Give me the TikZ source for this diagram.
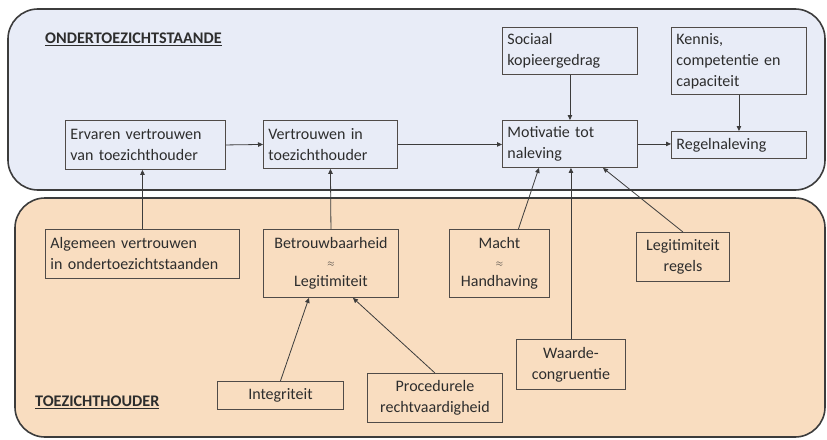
\documentclass[tikz,border=0pt]{standalone}
\usepackage{fontspec}
\setmainfont{Carlito}
\usetikzlibrary{arrows.meta}
\definecolor{topfill}{RGB}{232,236,247}
\definecolor{botfill}{RGB}{249,221,192}
\definecolor{edge}{RGB}{60,60,60}
\definecolor{boxedge}{RGB}{80,75,72}
\definecolor{txt}{RGB}{45,45,45}
\begin{document}
\begin{tikzpicture}[x=1pt,y=-1pt,
  panel/.style={draw=edge, line width=1.6pt, rounded corners=30pt},
  box/.style={draw=boxedge, line width=0.9pt, inner sep=5pt, anchor=north west,
    font=\fontsize{16}{21}\selectfont, text=txt},
  lbl/.style={font=\fontsize{16.2}{18}\selectfont\bfseries, text=txt, anchor=north west, inner sep=0pt},
  arr/.style={draw=edge, line width=0.8pt, -{Triangle[length=5pt,width=4.5pt]}}]
\useasboundingbox (0,0) rectangle (827,439);
% panels
\draw[panel, fill=topfill] (8,9) rectangle (825,190);
\draw[panel, fill=botfill] (15,198) rectangle (825,437);
% labels
\node[lbl] (lt) at (45,33) {\underline{ONDERTOEZICHTSTAANDE}};
\node[lbl] (lb) at (35,396) {\underline{TOEZICHTHOUDER}};
% top boxes
\node[box, minimum width=160, minimum height=49, text width=150, align=left] (erv) at (65,120) {Ervaren vertrouwen\\van toezichthouder};
\node[box, minimum width=134, minimum height=48, text width=124, align=left] (ver) at (263,120) {Vertrouwen in\\toezichthouder};
\node[box, minimum width=135, minimum height=47, text width=125, align=left] (soc) at (502,27) {Sociaal\\kopieergedrag};
\node[box, minimum width=135, minimum height=67, text width=125, align=left] (ken) at (671,27) {Kennis,\\competentie en\\capaciteit};
\node[box, minimum width=135, minimum height=47, text width=125, align=left] (mot) at (502,120) {Motivatie tot\\naleving};
\node[box, minimum width=135, minimum height=27, text width=125, align=left] (reg) at (671,131) {Regelnaleving};
% bottom boxes
\node[box, minimum width=194, minimum height=49, text width=184, align=left] (alg) at (45,229) {Algemeen vertrouwen\\in ondertoezichtstaanden};
\node[box, minimum width=135, minimum height=68, text width=125, align=center] (bet) at (263,229) {Betrouwbaarheid\\[-3pt]{\small$\approx$}\\[-1pt]Legitimiteit};
\node[box, minimum width=126, minimum height=28, text width=116, align=center] (int) at (217,381) {Integriteit};
\node[box, minimum width=135, minimum height=49, text width=125, align=center] (pro) at (367,373) {Procedurele\\rechtvaardigheid};
\node[box, minimum width=100, minimum height=68, text width=90, align=center] (mac) at (449,229) {Macht\\[-3pt]{\small$\approx$}\\[-1pt]Handhaving};
\node[box, minimum width=109, minimum height=50, text width=99, align=center] (waa) at (516,339) {Waarde-\\congruentie};
\node[box, minimum width=93, minimum height=49, text width=83, align=center] (leg) at (636,232) {Legitimiteit\\regels};
% connectors
\draw[arr] (erv.east) -- (ver.west);
\draw[arr] (ver.east) -- (ver.east -| mot.west);
\draw[arr] (mot.east) -- (mot.east -| reg.west);
\draw[arr] (soc.south) -- (mot.north);
\draw[arr] (ken.south) -- (reg.north);
\draw[arr] (alg.north) -- (alg.north |- erv.south);
\draw[arr] (bet.north) -- (ver.south);
\draw[arr] (int.north) -- ([xshift=-22pt]bet.south);
\draw[arr] (pro.north) -- ([xshift=22pt]bet.south);
\draw[arr] ([xshift=19pt]mac.north) -- ([xshift=-31pt]mot.south);
\draw[arr] (waa.north) -- (waa.north |- mot.south);
\draw[arr] (leg.north) -- ([xshift=33pt]mot.south);
\end{tikzpicture}
\end{document}
